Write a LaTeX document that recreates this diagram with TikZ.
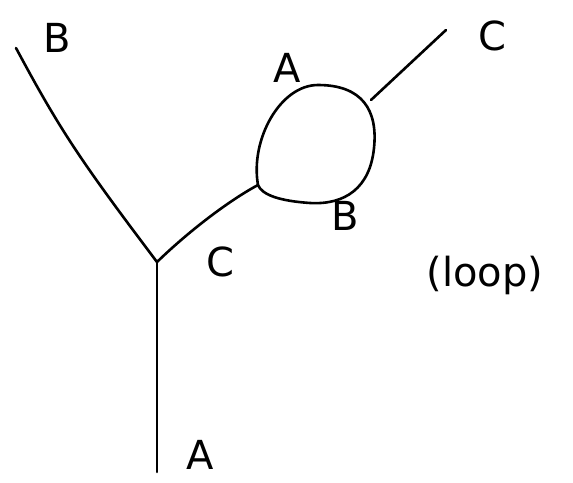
\documentclass[tikz,border=0pt]{standalone}
\usepackage{fontspec}
\setmainfont{DejaVu Sans}
\begin{document}
\begin{tikzpicture}[x=1pt,y=-1pt,
  edge/.style={line width=2.6pt,line cap=round,line join=round},
  lbl/.style={font=\fontsize{40}{44}\selectfont}]
\useasboundingbox (0,0) rectangle (573,482);
\coordinate (v) at (157,262);
\coordinate (b) at (16,48);
\coordinate (a) at (157,472);
\coordinate (lin) at (258,185);
\coordinate (lout) at (371,100);
\coordinate (c) at (446,30);
\draw[edge] (b) .. controls (60,130) and (80,160) .. (v);
\draw[edge] (v) -- (a);
\draw[edge] (v) .. controls (190,230) and (230,200) .. (lin);
\draw[edge] (lin) .. controls (250,140) and (280,85) .. (318,85)
  .. controls (362,85) and (378,110) .. (374,148)
  .. controls (370,188) and (345,205) .. (310,203)
  .. controls (280,201) and (262,195) .. (lin);
\draw[edge] (lout) -- (c);
\node[lbl] (lb) at (57,38) {B};
\node[lbl] (la1) at (287,68) {A};
\node[lbl] (lc1) at (492,36) {C};
\node[lbl] (lc2) at (220,262) {C};
\node[lbl] (lb2) at (345,216) {B};
\node[lbl] (lloop) at (485,275) {(loop)};
\node[lbl] (la2) at (200,455) {A};
\end{tikzpicture}
\end{document}
